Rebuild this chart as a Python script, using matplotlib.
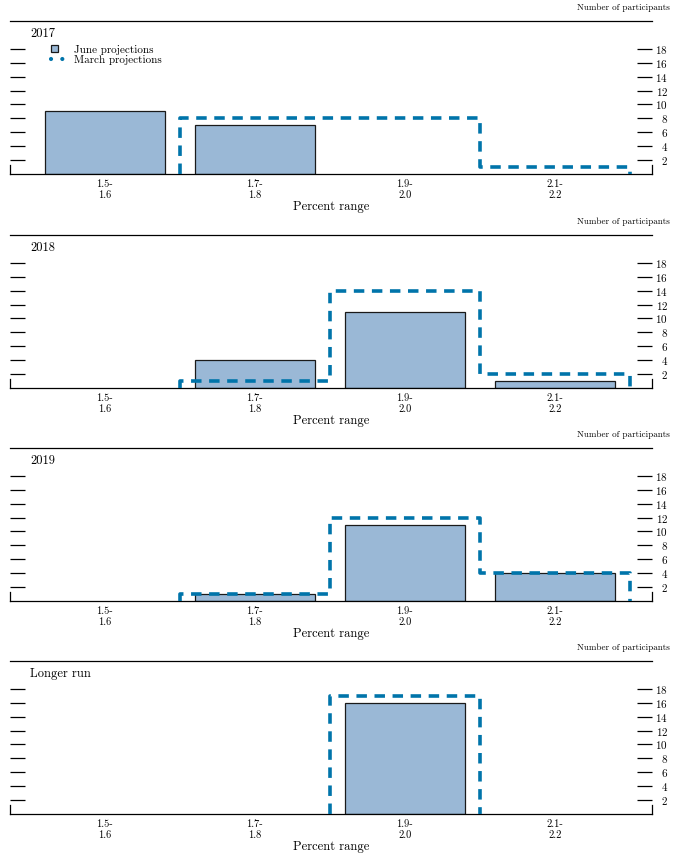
import matplotlib
matplotlib.use("Agg")
import matplotlib.pyplot as plt
import matplotlib.patches as mpatches
from matplotlib.lines import Line2D
from matplotlib.legend_handler import HandlerPatch
import numpy as np

plt.rcParams['font.family'] = ['cmr10', 'DejaVu Serif']
plt.rcParams['axes.formatter.use_mathtext'] = True

# ---- data ----
bins = ["1.5-\n1.6", "1.7-\n1.8", "1.9-\n2.0", "2.1-\n2.2"]
panels = ["2017", "2018", "2019", "Longer run"]
june_2017 = [9, 7, 0, 0]
march_2017 = [0, 8, 8, 1]
june_2018 = [0, 4, 11, 1]
march_2018 = [0, 1, 14, 2]
june_2019 = [0, 1, 11, 4]
march_2019 = [0, 1, 12, 4]
june_lr = [0, 0, 16, 0]
march_lr = [0, 0, 17, 0]
june = [june_2017, june_2018, june_2019, june_lr]
march = [march_2017, march_2018, march_2019, march_lr]
yticks = [2, 4, 6, 8, 10, 12, 14, 16, 18]

BAR = '#9AB8D6'
EDGE = '#1a1a1a'
DASH = '#0074AA'

W, H = 679, 861
fig = plt.figure(figsize=(W / 100, H / 100), dpi=100)

left_px, right_px = 10, 652
tops = [21, 235, 448, 661]
height_px = 153


def march_step(vals):
    vals = np.asarray(vals, dtype=float)
    nz = np.nonzero(vals)[0]
    i0, i1 = nz[0], nz[-1]
    xs, ys = [i0 - 0.5], [0.0]
    for i in range(i0, i1 + 1):
        xs += [i - 0.5, i + 0.5]
        ys += [vals[i], vals[i]]
    xs.append(i1 + 0.5)
    ys.append(0.0)
    return xs, ys


def square(legend, orig_handle, xdescent, ydescent, width, height, fontsize):
    s = height * 0.95
    return mpatches.Rectangle((-xdescent, -ydescent + (height - s) / 2), s, s)


x = np.arange(len(bins))
for k, top in enumerate(tops):
    ax = fig.add_axes([left_px / W, 1 - (top + height_px) / H,
                       (right_px - left_px) / W, height_px / H])
    vals = np.asarray(june[k], dtype=float)
    m = vals > 0
    ax.bar(x[m], vals[m], width=0.8, color=BAR, edgecolor=EDGE, linewidth=0.9, zorder=2)
    xs, ys = march_step(march[k])
    ax.plot(xs, ys, color=DASH, lw=2.6, linestyle=(0, (2.9, 2.1)),
            dash_capstyle='butt', solid_joinstyle='miter', zorder=3, clip_on=False)
    ax.set_xlim(-0.633, 3.647)
    ax.set_ylim(0, 22)
    ax.set_xticks(x)
    ax.set_xticklabels(bins, fontsize=7.5, linespacing=1.15)
    ax.tick_params(axis='x', length=0, pad=4)
    ax.set_yticks(yticks)
    ax.yaxis.set_ticks_position('both')
    ax.tick_params(axis='y', direction='in', length=10.5, width=0.9,
                   labelleft=False, labelright=True, labelsize=8, pad=11.5)
    for lab in ax.get_yticklabels():
        lab.set_horizontalalignment('right')
    for s in ['left', 'right']:
        ax.spines[s].set_bounds(0, 1.3)
        ax.spines[s].set_linewidth(0.9)
    ax.spines['bottom'].set_linewidth(0.9)
    ax.spines['top'].set_linewidth(0.9)
    ax.text(0.031, 0.915, panels[k], transform=ax.transAxes, fontsize=9,
            ha='left', va='center')
    ax.text(1.028, 1.085, "Number of participants", transform=ax.transAxes,
            fontsize=6.5, ha='right', va='center')
    ax.text(0.5, -0.216, "Percent range", transform=ax.transAxes,
            fontsize=9, ha='center', va='center')
    if k == 0:
        h1 = mpatches.Patch(facecolor=BAR, edgecolor=EDGE, linewidth=0.9)
        h2 = Line2D([], [], color=DASH, lw=3.0, linestyle=(0, (0.01, 2.7)),
                    dash_capstyle='round')
        ax.legend([h1, h2], ["June projections", "March projections"],
                  handler_map={h1: HandlerPatch(patch_func=square)},
                  loc='upper left', bbox_to_anchor=(0.064, 0.845),
                  frameon=False, fontsize=8, handlelength=1.3,
                  handleheight=0.6,
                  handletextpad=0.75, labelspacing=0.0, borderpad=0,
                  borderaxespad=0)

fig.savefig("out.png", dpi=100)
